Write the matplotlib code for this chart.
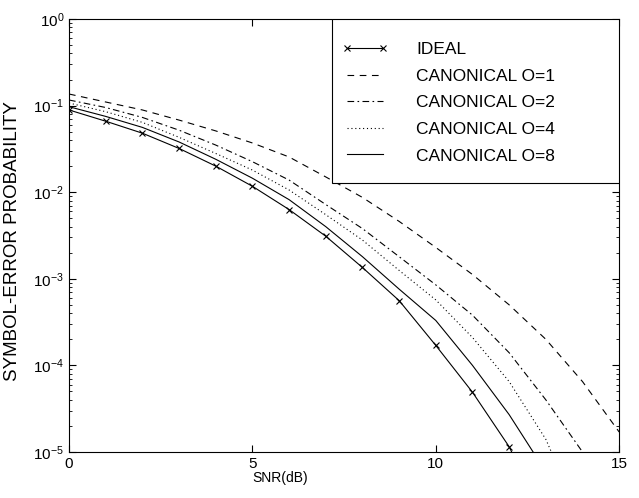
import matplotlib
matplotlib.use("Agg")
import matplotlib.pyplot as plt
from matplotlib.patches import Rectangle

plt.rcParams['font.family'] = ['Liberation Sans', 'DejaVu Sans']
plt.rcParams['mathtext.fontset'] = 'custom'
plt.rcParams['mathtext.rm'] = 'Liberation Sans'
plt.rcParams['mathtext.it'] = 'Liberation Sans:italic'

snr = [0, 1, 2, 3, 4, 5, 6, 7, 8, 9, 10, 11, 12, 13, 14, 15]

ideal = [0.089, 0.066, 0.048, 0.032, 0.0200, 0.0117, 0.0063, 0.0031, 0.00135,
         5.6e-4, 1.7e-4, 4.9e-5, 1.15e-5, 1.5e-6, 1e-7, 1e-8]
can8 = [0.097, 0.075, 0.056, 0.038, 0.0240, 0.0145, 0.0082, 0.0040, 0.0018,
        7.6e-4, 3.3e-4, 1.0e-4, 2.7e-5, 5.9e-6, 5e-7, 1e-8]
can4 = [0.107, 0.085, 0.064, 0.043, 0.028, 0.018, 0.0106, 0.0055, 0.0028,
        1.25e-3, 5.7e-4, 2.1e-4, 6.5e-5, 1.4e-5, 1.5e-6, 1e-7]
can2 = [0.116, 0.095, 0.073, 0.052, 0.035, 0.0225, 0.0138, 0.0072, 0.0038,
        1.8e-3, 8.5e-4, 3.8e-4, 1.4e-4, 4.0e-5, 1.0e-5, 1.5e-6]
can1 = [0.136, 0.110, 0.089, 0.068, 0.051, 0.037, 0.0255, 0.0150, 0.0087,
        4.6e-3, 2.3e-3, 1.12e-3, 5.0e-4, 2.0e-4, 6.5e-5, 1.7e-5]

labels = ['IDEAL', 'CANONICAL O=1', 'CANONICAL O=2', 'CANONICAL O=4', 'CANONICAL O=8']

fig = plt.figure(figsize=(6.39, 4.98), dpi=100)
ax = fig.add_axes([0.108, 0.0924, 0.861, 0.8695])

lw = 0.8
ax.semilogy(snr, ideal, color='k', lw=lw, marker='x', ms=5, mew=0.8, label=labels[0])
ax.semilogy(snr, can1, color='k', lw=lw, ls=(0, (6, 5)), label=labels[1])
ax.semilogy(snr, can2, color='k', lw=lw, ls=(0, (6, 3, 1.5, 3)), label=labels[2])
ax.semilogy(snr, can4, color='k', lw=lw, ls=(0, (1, 2.5)), label=labels[3])
ax.semilogy(snr, can8, color='k', lw=lw, ls='-', label=labels[4])

ax.set_xlim(0, 15)
ax.set_ylim(1e-5, 1)
ax.set_xticks([0, 5, 10, 15])
ax.tick_params(which='both', direction='in', top=True, right=True, labelsize=11)
ax.tick_params(which='major', length=5)
ax.tick_params(which='minor', length=2.5)
ax.set_xlabel('SNR(dB)', fontsize=10)
ax.set_ylabel('SYMBOL-ERROR PROBABILITY', fontsize=13.5)
ax.xaxis.set_label_coords(0.384, -0.045)
ax.yaxis.set_label_coords(-0.087, 0.487)
for s in ax.spines.values():
    s.set_linewidth(0.8)

# legend box
box = Rectangle((0.478, 0.621), 0.522, 0.379, transform=ax.transAxes,
                facecolor='white', edgecolor='k', lw=0.8, zorder=3)
ax.add_patch(box)
leg = ax.legend(loc='upper left', bbox_to_anchor=(0.4964, 0.947), fontsize=12.5,
                borderaxespad=0, borderpad=0, frameon=False, handlelength=2.65,
                handletextpad=1.6, labelspacing=0.66, numpoints=2, markerscale=0.8)
leg.set_zorder(5)

fig.savefig('out.png', dpi=100)
